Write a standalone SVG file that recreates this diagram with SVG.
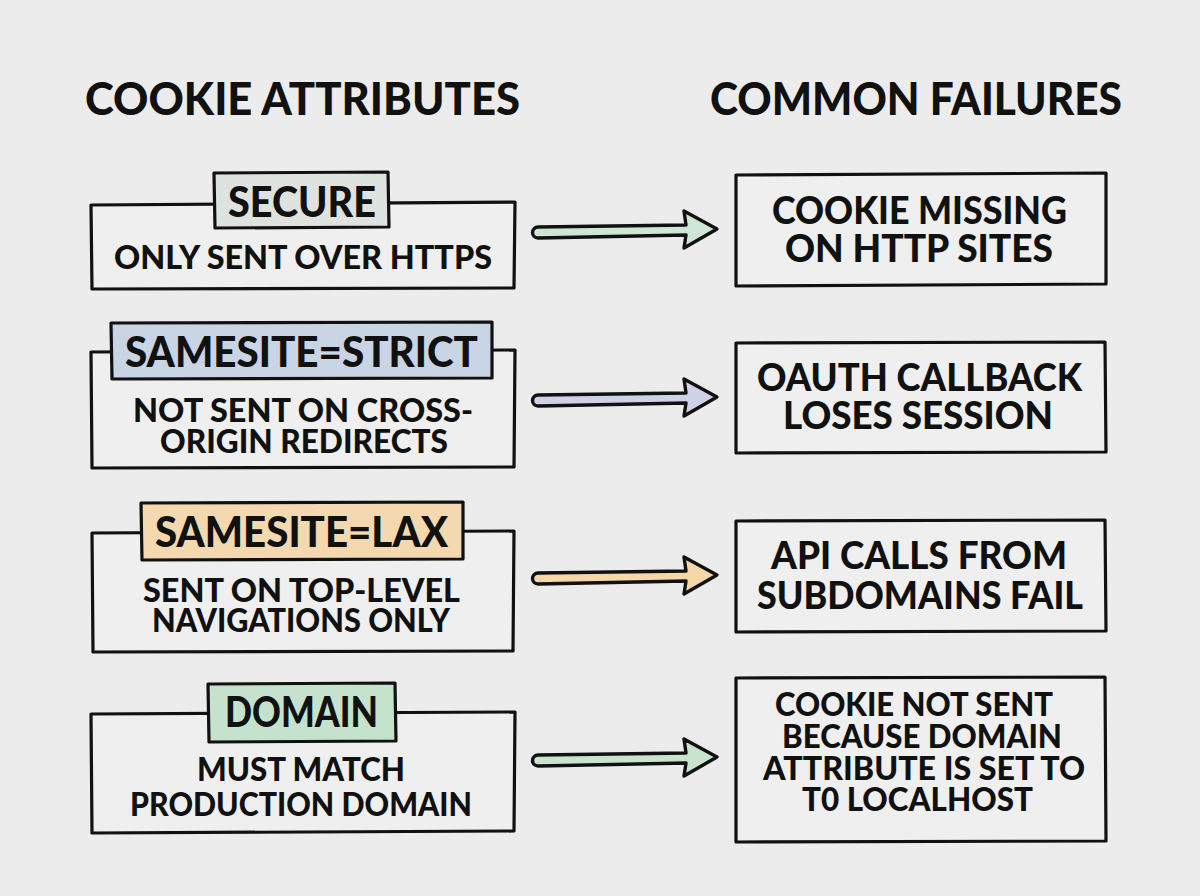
<svg xmlns="http://www.w3.org/2000/svg" xmlns:xlink="http://www.w3.org/1999/xlink" width="1200" height="896" viewBox="0 0 1200 896">
<defs>
<style>
.t{font-family:"Lato","Noto Sans","DejaVu Sans",sans-serif;font-weight:900;fill:#111;}
.h{font-size:46px;}
.tag{font-size:42px;}
.b{font-size:33px;}
.r{font-size:37px;}
.r4{font-size:32px;}
.box{fill:#efefef;stroke:#111;stroke-width:3.2;stroke-linejoin:round;}
.tg{stroke:#111;stroke-width:3.2;stroke-linejoin:round;}
.arr{stroke:#111;stroke-width:3.4;stroke-linejoin:round;}
</style>
<path id="ar" d="M538,-3 L686,-5 L684,-19 L717,-1 L684,18 L686,5 L538,8 A5.5,5.5 0 0 1 538,-3 Z"/>
</defs>
<rect width="1200" height="896" fill="#ececec"/>

<g id="titles">
<text class="t h" x="85" y="115" textLength="435" lengthAdjust="spacingAndGlyphs">COOKIE ATTRIBUTES</text>
<text class="t h" x="710" y="115" textLength="412" lengthAdjust="spacingAndGlyphs">COMMON FAILURES</text>
</g>

<g id="attr-secure">
<path class="box" d="M91,205 L515,202 L514,288 L92,289 Z"/>
<path class="tg" fill="#dfe3df" d="M214,173 L388,172 L389,227 L215,228 Z"/>
<text class="t tag" x="228" y="217" textLength="148" lengthAdjust="spacingAndGlyphs">SECURE</text>
<text class="t b" x="114" y="269" textLength="378" lengthAdjust="spacingAndGlyphs">ONLY SENT OVER HTTPS</text>
</g>

<g id="attr-strict">
<path class="box" d="M91,352 L515,350 L514,467 L92,468 Z"/>
<path class="tg" fill="#c9d4e4" d="M111,323 L492,322 L492,378 L112,379 Z"/>
<text class="t tag" x="125" y="367" textLength="353" lengthAdjust="spacingAndGlyphs">SAMESITE=STRICT</text>
<text class="t b" x="133" y="422" textLength="340" lengthAdjust="spacingAndGlyphs">NOT SENT ON CROSS-</text>
<text class="t b" x="160" y="453" textLength="288" lengthAdjust="spacingAndGlyphs">ORIGIN REDIRECTS</text>
</g>

<g id="attr-lax">
<path class="box" d="M92,533 L514,531 L513,651 L93,652 Z"/>
<path class="tg" fill="#f4d9b0" d="M141,503 L463,502 L463,559 L142,560 Z"/>
<text class="t tag" x="155" y="547" textLength="293" lengthAdjust="spacingAndGlyphs">SAMESITE=LAX</text>
<text class="t b" x="143" y="602" textLength="317" lengthAdjust="spacingAndGlyphs">SENT ON TOP-LEVEL</text>
<text class="t b" x="152" y="632" textLength="298" lengthAdjust="spacingAndGlyphs">NAVIGATIONS ONLY</text>
</g>

<g id="attr-domain">
<path class="box" d="M91,714 L515,712 L514,831 L92,833 Z"/>
<path class="tg" fill="#c5e3cc" d="M208,684 L395,683 L396,741 L209,742 Z"/>
<text class="t tag" x="225" y="727" textLength="153" lengthAdjust="spacingAndGlyphs">DOMAIN</text>
<text class="t b" x="197" y="781" textLength="208" lengthAdjust="spacingAndGlyphs">MUST MATCH</text>
<text class="t b" x="130" y="816" textLength="342" lengthAdjust="spacingAndGlyphs">PRODUCTION DOMAIN</text>
</g>

<g id="fail-http">
<path class="box" d="M736,175 L1106,173 L1106,284 L736,286 Z"/>
<text class="t r" x="772" y="224" textLength="295" lengthAdjust="spacingAndGlyphs">COOKIE MISSING</text>
<text class="t r" x="785" y="262" textLength="268" lengthAdjust="spacingAndGlyphs">ON HTTP SITES</text>
</g>

<g id="fail-oauth">
<path class="box" d="M736,343 L1105,342 L1106,452 L736,453 Z"/>
<text class="t r" x="757" y="391" textLength="325" lengthAdjust="spacingAndGlyphs">OAUTH CALLBACK</text>
<text class="t r" x="783" y="429" textLength="270" lengthAdjust="spacingAndGlyphs">LOSES SESSION</text>
</g>

<g id="fail-api">
<path class="box" d="M736,521 L1105,520 L1106,631 L736,632 Z"/>
<text class="t r" x="771" y="569" textLength="296" lengthAdjust="spacingAndGlyphs">API CALLS FROM</text>
<text class="t r" x="757" y="609" textLength="326" lengthAdjust="spacingAndGlyphs">SUBDOMAINS FAIL</text>
</g>

<g id="fail-localhost">
<path class="box" d="M736,678 L1105,677 L1106,841 L736,842 Z"/>
<text class="t r4" x="775" y="716" textLength="278" lengthAdjust="spacingAndGlyphs">COOKIE NOT SENT</text>
<text class="t r4" x="782" y="748" textLength="280" lengthAdjust="spacingAndGlyphs">BECAUSE DOMAIN</text>
<text class="t r4" x="763" y="780" textLength="322" lengthAdjust="spacingAndGlyphs">ATTRIBUTE IS SET TO</text>
<text class="t r4" x="802" y="811" textLength="231" lengthAdjust="spacingAndGlyphs">T0 LOCALHOST</text>
</g>

<g id="connectors">
<use xlink:href="#ar" class="arr" fill="#cfe6d4" transform="translate(0,230)"/>
<use xlink:href="#ar" class="arr" fill="#cfd1e6" transform="translate(0,398)"/>
<use xlink:href="#ar" class="arr" fill="#f5d7a8" transform="translate(0,576)"/>
<use xlink:href="#ar" class="arr" fill="#c9e3cf" transform="translate(0,758)"/>
</g>
</svg>
